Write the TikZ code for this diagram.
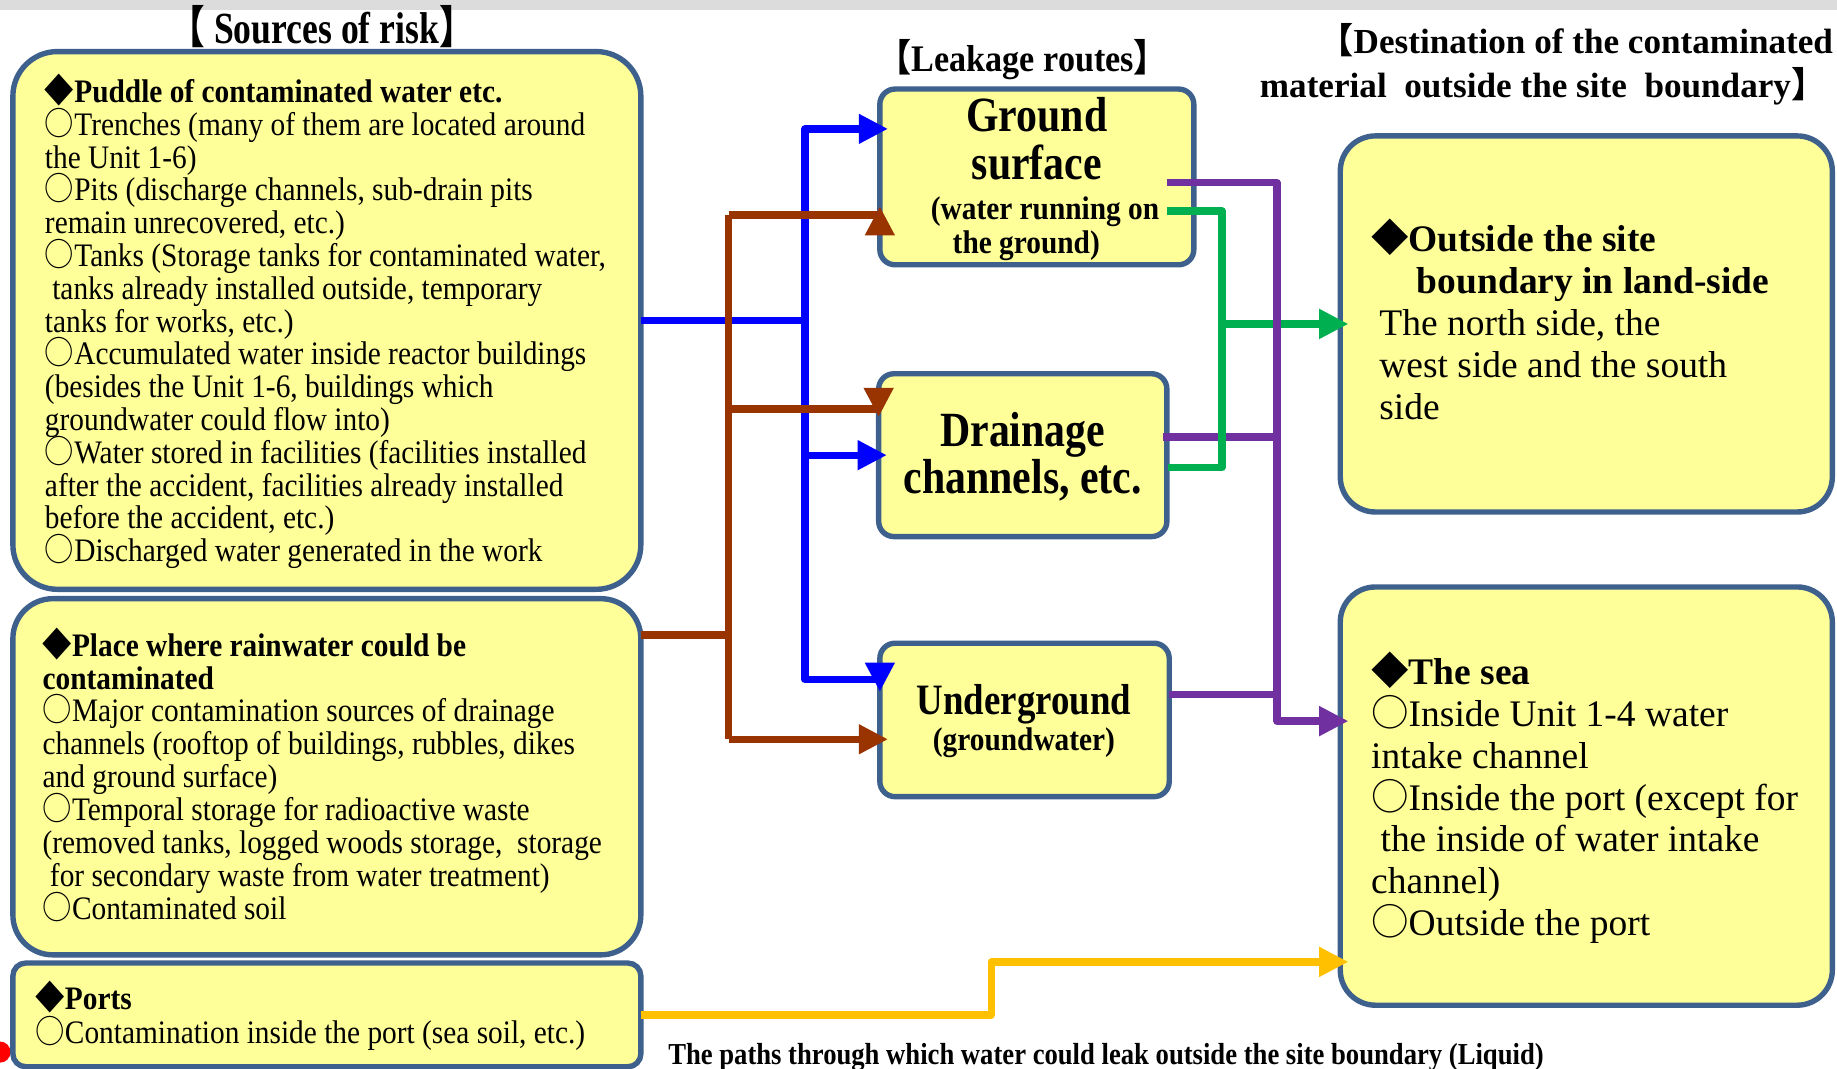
\documentclass[tikz,border=0pt]{standalone}
\usepackage{fontspec}
\usepackage{graphicx}
\setmainfont{Liberation Serif}
\newfontfamily\cjk{Noto Sans CJK JP}
\usetikzlibrary{arrows.meta,calc,fit}
\definecolor{bordc}{RGB}{62,96,140}
\definecolor{boxfill}{RGB}{255,255,153}
\definecolor{cblue}{RGB}{0,0,255}
\definecolor{cbrown}{RGB}{153,51,0}
\definecolor{cgreen}{RGB}{0,176,80}
\definecolor{cpurple}{RGB}{112,48,160}
\definecolor{cyellow}{RGB}{255,192,0}
\definecolor{bandc}{RGB}{220,220,220}
\newcommand\bd{{\cjk ◆}}
\newcommand\wc{{\cjk ○}}
\newcommand\mlines[1]{\vtop{\lineskiplimit=-100pt\lineskip=0pt\halign{##\hfil\cr#1\crcr}}}
\begin{document}
\begin{tikzpicture}[x=0.5pt,y=-0.5pt,
  box/.style={draw=bordc, line width=2.3pt, fill=boxfill, inner sep=0pt, outer sep=0pt},
  wire/.style={line width=3.1pt, line join=round},
  arrtip/.style={wire, -{Triangle[length=12.5pt,width=12pt]}},
  arr/.style={arrtip, shorten >=-3.5pt},
  txt/.style={inner sep=0pt, anchor=base west},
  ctxt/.style={inner sep=0pt, anchor=base},
  bigb/.style={font=\bfseries\fontsize{21}{21}\selectfont},
  smallb/.style={font=\bfseries\fontsize{14}{14}\selectfont}]
\useasboundingbox (0,0) rectangle (1568,912);
\fill[bandc] (0,0) rectangle (1568,8.5);
\fill[red] (0,898) circle[radius=4.5pt];

% titles
\node[ctxt, font=\bfseries\fontsize{19}{19}\selectfont] (tsrc) at (275,37)
  {\scalebox{0.8}[1]{{\cjk 【} Sources of risk{\cjk 】}}};
\node[ctxt, font=\bfseries\fontsize{16}{16}\selectfont] (tleak) at (873,61)
  {\scalebox{0.91}[1]{{\cjk 【}Leakage routes{\cjk 】}}};
\node[inner sep=0pt, anchor=base east, font=\bfseries\fontsize{15}{15}\selectfont] (tdest1) at (1565,46)
  {{\cjk 【}Destination of the contaminated};
\node[txt, font=\bfseries\fontsize{15}{15}\selectfont] (tdest2) at (1075,83)
  {material\ \ outside the site\ \ boundary{\cjk 】}};

% boxes
\node[box, rounded corners=19pt, fit={(11,44) (547,503)}] (b1) {};
\node[box, rounded corners=17pt, fit={(11,511) (547,815)}] (b2) {};
\node[box, rounded corners=5.5pt, fit={(11,822) (547,910.5)}] (b3) {};
\node[box, rounded corners=6.5pt, fit={(751,76) (1019,226)}] (gs) {};
\node[box, rounded corners=6.5pt, fit={(750,319) (996,458)}] (dr) {};
\node[box, rounded corners=6.5pt, fit={(751,549) (998,680)}] (ug) {};
\node[box, rounded corners=15pt, fit={(1144,116) (1564,437)}] (out) {};
\node[box, rounded corners=15pt, fit={(1144,501) (1564,858)}] (sea) {};

% box texts
\node[txt, font=\fontsize{14}{14}\selectfont] (t1) at (38,87.5) {\scalebox{0.895}[1]{\mlines{%
{\bfseries\bd Puddle of contaminated water etc.}\cr
\wc Trenches (many of them are located around\cr
the Unit 1-6)\cr
\wc Pits (discharge channels, sub-drain pits\cr
remain unrecovered, etc.)\cr
\wc Tanks (Storage tanks for contaminated water,\cr
\ tanks already installed outside, temporary\cr
tanks for works, etc.)\cr
\wc Accumulated water inside reactor buildings\cr
(besides the Unit 1-6, buildings which\cr
groundwater could flow into)\cr
\wc Water stored in facilities (facilities installed\cr
after the accident, facilities already installed\cr
before the accident, etc.)\cr
\wc Discharged water generated in the work}}};

\node[txt, font=\fontsize{14}{14.05}\selectfont] (t2) at (36,560) {\scalebox{0.895}[1]{\mlines{%
{\bfseries\bd Place where rainwater could be}\cr
{\bfseries contaminated}\cr
\wc Major contamination sources of drainage\cr
channels (rooftop of buildings, rubbles, dikes\cr
and ground surface)\cr
\wc Temporal storage for radioactive waste\cr
(removed tanks, logged woods storage,\ \ storage\cr
\ for secondary waste from water treatment)\cr
\wc Contaminated soil}}};

\node[txt, font=\fontsize{14}{14.5}\selectfont] (t3) at (30,862) {\scalebox{0.895}[1]{\mlines{%
{\bfseries\bd Ports}\cr
\wc Contamination inside the port (sea soil, etc.)}}};

\node[ctxt, bigb] (gs1) at (885,112) {\scalebox{0.85}[1]{Ground}};
\node[ctxt, bigb] (gs2) at (885,153) {\scalebox{0.85}[1]{surface}};
\node[ctxt, smallb] (gs3) at (892,187) {\scalebox{0.895}[1]{(water running on}};
\node[ctxt, smallb] (gs4) at (876,216) {\scalebox{0.895}[1]{the ground)}};

\node[ctxt, bigb] (dr1) at (873,381) {\scalebox{0.85}[1]{Drainage}};
\node[ctxt, bigb] (dr2) at (873,421) {\scalebox{0.85}[1]{channels, etc.}};

\node[ctxt, font=\bfseries\fontsize{18.5}{18.5}\selectfont] (ug1) at (874,610) {\scalebox{0.85}[1]{Underground}};
\node[ctxt, smallb] (ug2) at (874,641) {\scalebox{0.895}[1]{(groundwater)}};

\node[txt, font=\fontsize{16}{17.9}\selectfont] (to) at (1170,215) {\mlines{%
{\bfseries\bd Outside the site}\cr
{\bfseries\hspace*{19.5pt}boundary in land-side}\cr
\hspace*{3.5pt}The north side, the\cr
\hspace*{3.5pt}west side and the south\cr
\hspace*{3.5pt}side}};

\node[txt, font=\fontsize{16}{17.9}\selectfont] (ts) at (1170,584) {\mlines{%
{\bfseries\bd The sea}\cr
\wc Inside Unit 1-4 water\cr
intake channel\cr
\wc Inside the port (except for\cr
\ the inside of water intake\cr
channel)\cr
\wc Outside the port}};

\node[txt, font=\bfseries\fontsize{13}{13}\selectfont] (cap) at (570,909)
  {\scalebox{0.875}[1]{The paths through which water could leak outside the site boundary (Liquid)}};

% junction coordinates
\coordinate (jb1) at (687,0 |- b1.east);
\coordinate (jb2) at (687,0 |- dr.west);
\coordinate (jb3) at (687,580);
\coordinate (jr0) at (622,542);
\coordinate (jr1) at (622,183.5);
\coordinate (jr2) at (622,349);
\coordinate (jr3) at (622,631);
\coordinate (jp1) at (1090,156);
\coordinate (jg1) at (1043,180);
\coordinate (jg3) at (1043,399);
\coordinate (jy1) at (846,0 |- b3.east);

% blue
\draw[arr, cblue] (b1.east) -- (jb1) |- ($(gs.west)+(0,-41)$);
\draw[arrtip, cblue] (jb1) -- (jb3) -- ($(ug.north west)+(0,31)$) -- ($(ug.north west)+(0,41.5)$);
\draw[arr, cblue] (jb2) -- (dr.west);

% brown
\draw[wire, cbrown] (b2.east |- jr0) -- (jr0);
\draw[wire, cbrown] (jr1) -- (jr3);
\draw[arrtip, cbrown] (jr1) -- (gs.west |- jr1) -- ($(gs.west |- jr1)+(0,-7.5)$);
\draw[arrtip, cbrown] (jr2) -- (dr.west |- jr2) -- ($(dr.west |- jr2)+(0,7)$);
\draw[arr, cbrown] (jr3) -- (ug.west |- jr3);

% purple (drainage branch first)
\draw[wire, cpurple] ($(dr.east)+(-3,-15.5)$) -- (jp1 |- 0,373);
% green
\draw[wire, cgreen] ($(gs.east)+(-23,29)$) -- (jg1) -- (jg3) -- ($(dr.east)+(1,10.5)$);
\draw[arr, cgreen] (jg1 |- out.west) -- (out.west);
% purple main
\draw[arr, cpurple] ($(gs.east)+(-23,5)$) -- (jp1) |- ($(sea.west)+(0,-64)$);
\draw[wire, cpurple] ($(ug.east)+(0,-21.5)$) -- (jp1 |- 0,593);

% yellow
\draw[arr, cyellow] (b3.east) -- (jy1) |- ($(sea.west)+(0,141.5)$);
\end{tikzpicture}
\end{document}
